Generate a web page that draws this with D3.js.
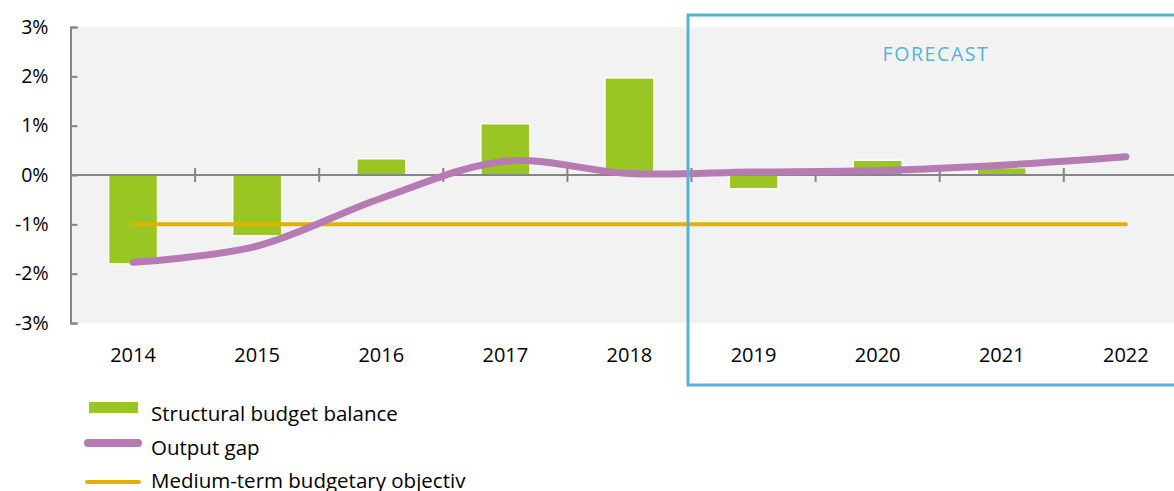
<!DOCTYPE html>
<html>
<head>
<meta charset="utf-8">
<script src="https://cdn.jsdelivr.net/npm/d3@7"></script>
<style>
  body { margin: 0; background: #fff; }
  text { font-family: "Open Sans", "Noto Sans", sans-serif; fill: #000; }
</style>
</head>
<body>
<svg id="chart" width="1174" height="491"></svg>
<script>
// data
var years = ["2014", "2015", "2016", "2017", "2018", "2019", "2020", "2021", "2022"];
var structuralBalance = [-1.8, -1.23, 0.33, 1.04, 1.97, -0.28, 0.3, 0.15, 0];
var outputGap = [-1.77, -1.44, -0.47, 0.28, 0.03, 0.06, 0.09, 0.2, 0.37];
var mto = [-1, -1, -1, -1, -1, -1, -1, -1, -1];
var yTicks = [-3, -2, -1, 0, 1, 2, 3];
var forecastFrom = "2019";
var legendLabels = ["Structural budget balance", "Output gap", "Medium-term budgetary objectiv"];

var svg = d3.select("svg#chart"),
    width = +svg.attr("width");

var green = "#9AC623", purple = "#B77BB4", gold = "#E2B100", blue = "#57B3D4", axisGrey = "#858585";

var x = d3.scaleBand().domain(years).range([71, 71 + 9 * 124.1]);
var y = d3.scaleLinear().domain([-3, 3]).range([323, 27]);
var barW = 49;

// plot background
svg.append("rect")
    .attr("x", 70).attr("y", y(3))
    .attr("width", width - 70).attr("height", y(-3) - y(3))
    .attr("fill", "#F2F2F2");

// y axis
var yAxis = svg.append("g")
    .attr("transform", "translate(70.5,0)")
    .call(d3.axisLeft(y).tickValues(yTicks).tickSize(-7).tickPadding(22)
        .tickFormat(function (d) { return d + "%"; }));
yAxis.select(".domain").attr("stroke", axisGrey).attr("stroke-width", 2);
yAxis.selectAll(".tick line").attr("stroke", axisGrey).attr("stroke-width", 2);
yAxis.selectAll("text")
    .style("font-family", "'Open Sans', sans-serif")
    .style("font-size", "19.5px").attr("fill", "#000");

// bars
svg.selectAll(".bar")
    .data(years)
    .enter()
    .append("rect")
    .attr("class", "bar")
    .attr("x", function (d) { return x(d) + x.bandwidth() / 2 - barW / 2; })
    .attr("y", function (d, i) { return y(Math.max(0, structuralBalance[i])); })
    .attr("width", barW)
    .attr("height", function (d, i) { return Math.abs(y(structuralBalance[i]) - y(0)); })
    .attr("fill", green)
    .attr("stroke", "#fff")
    .attr("stroke-width", 1.5);

// zero line + category ticks
svg.append("line")
    .attr("x1", 70).attr("x2", width)
    .attr("y1", y(0)).attr("y2", y(0))
    .attr("stroke", axisGrey).attr("stroke-width", 2);

svg.selectAll(".xtick")
    .data(years.slice(1))
    .enter()
    .append("line")
    .attr("class", "xtick")
    .attr("x1", function (d) { return x(d); })
    .attr("x2", function (d) { return x(d); })
    .attr("y1", y(0) - 7).attr("y2", y(0) + 7)
    .attr("stroke", axisGrey).attr("stroke-width", 2);

// x labels under the plot
svg.selectAll(".xlabel")
    .data(years)
    .enter()
    .append("text")
    .attr("class", "xlabel")
    .attr("x", function (d) { return x(d) + x.bandwidth() / 2; })
    .attr("y", 362)
    .attr("text-anchor", "middle")
    .style("font-size", "20px")
    .text(function (d) { return d; });

// lines
var cx = function (d, i) { return x(years[i]) + x.bandwidth() / 2; };

svg.append("path")
    .datum(mto)
    .attr("d", d3.line().x(cx).y(function (d) { return y(d); }))
    .attr("fill", "none")
    .attr("stroke", gold)
    .attr("stroke-width", 4)
    .attr("stroke-linecap", "round");

svg.append("path")
    .datum(outputGap)
    .attr("d", d3.line().x(cx).y(function (d) { return y(d); }).curve(d3.curveCardinal.tension(0)))
    .attr("fill", "none")
    .attr("stroke", purple)
    .attr("stroke-width", 7)
    .attr("stroke-linecap", "round");

// forecast box
var boxX = x(forecastFrom) - 3.5;
svg.append("rect")
    .attr("x", boxX).attr("y", 15)
    .attr("width", width + 20 - boxX).attr("height", 370)
    .attr("fill", "none")
    .attr("stroke", blue)
    .attr("stroke-width", 3);

svg.append("text")
    .attr("x", 936).attr("y", 61)
    .attr("text-anchor", "middle")
    .style("font-size", "19.5px")
    .style("letter-spacing", "1.6px")
    .style("fill", blue)
    .text("FORECAST");

// legend
var legend = svg.append("g");

legend.append("rect")
    .attr("x", 89).attr("y", 402).attr("width", 49).attr("height", 11)
    .attr("fill", green);

legend.append("line")
    .attr("x1", 88).attr("x2", 138).attr("y1", 443).attr("y2", 443)
    .attr("stroke", purple).attr("stroke-width", 8).attr("stroke-linecap", "round");

legend.append("line")
    .attr("x1", 87).attr("x2", 139).attr("y1", 482).attr("y2", 482)
    .attr("stroke", gold).attr("stroke-width", 4).attr("stroke-linecap", "round");

legend.selectAll(".ltext")
    .data(legendLabels)
    .enter()
    .append("text")
    .attr("class", "ltext")
    .attr("x", 151)
    .attr("y", function (d, i) { return 421 + i * 33.5; })
    .style("font-size", "20.5px")
    .text(function (d) { return d; });
</script>
</body>
</html>
